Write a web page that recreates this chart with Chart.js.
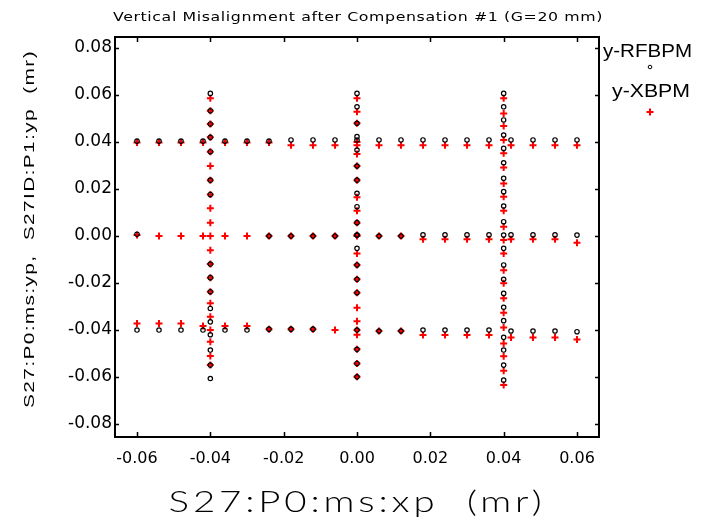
<!DOCTYPE html>
<html>
<head>
<meta charset="utf-8">
<script src="https://cdn.jsdelivr.net/npm/chart.js"></script>
<style>
  body { margin: 0; background: #fff; }
  #wrap { width: 702px; height: 522px; }
</style>
</head>
<body>
<div id="wrap"><canvas id="chart" width="702" height="522"></canvas></div>
<script>
const chartTitle = 'Vertical Misalignment after Compensation #1 (G=20 mm)';
const xTitle = 'S27:P0:ms:xp  (mr)';
const yTitle = 'S27:P0:ms:yp,  S27ID:P1:yp  (mr)';
const seriesNames = ['y-RFBPM', 'y-XBPM'];

const xTicks = [-0.06, -0.04, -0.02, 0.00, 0.02, 0.04, 0.06];
const yTicks = [-0.08, -0.06, -0.04, -0.02, 0.00, 0.02, 0.04, 0.06, 0.08];

// horizontal scans: x positions shared by the three rows
const xScan = [-0.060, -0.054, -0.048, -0.042, -0.036, -0.030, -0.024, -0.018, -0.012, -0.006, 0.000,
  0.006, 0.012, 0.018, 0.024, 0.030, 0.036, 0.042, 0.048, 0.054, 0.060];

const rfRowHi = [0.0404, 0.0404, 0.0404, 0.0404, 0.0404, 0.0404, 0.0404, 0.0409, 0.0409, 0.0409, 0.0409,
  0.0409, 0.0409, 0.0409, 0.0409, 0.0409, 0.0409, 0.0409, 0.0409, 0.0409, 0.0409];
const xbRowHi = [0.0398, 0.0398, 0.0398, 0.0398, 0.0398, 0.0398, 0.0398, 0.0386, 0.0386, 0.0386, 0.0386,
  0.0386, 0.0386, 0.0386, 0.0386, 0.0386, 0.0386, 0.0386, 0.0386, 0.0386, 0.0386];

const rfRowMid = [0.0008, null, null, null, null, null, 0.0000, 0.0000, 0.0000, 0.0000, 0.0004,
  0.0000, 0.0000, 0.0005, 0.0005, 0.0005, 0.0005, 0.0005, 0.0005, 0.0005, 0.0004];
const xbRowMid = [0.0005, 0.0000, 0.0000, 0.0000, 0.0000, 0.0000, 0.0000, 0.0000, 0.0000, 0.0000, 0.0000,
  0.0000, 0.0000, -0.0014, -0.0014, -0.0014, -0.0014, -0.0014, -0.0014, -0.0014, -0.0028];

const rfRowLo = [-0.0400, -0.0400, -0.0400, -0.0400, -0.0400, -0.0400, -0.0396, -0.0396, -0.0396, null, -0.0400,
  -0.0404, -0.0404, -0.0400, -0.0400, -0.0400, -0.0400, -0.0404, -0.0404, -0.0404, -0.0407];
const xbRowLo = [-0.0372, -0.0372, -0.0372, -0.0383, -0.0383, -0.0383, -0.0396, -0.0396, -0.0396, -0.0400, -0.0400,
  -0.0404, -0.0404, -0.0421, -0.0421, -0.0421, -0.0421, -0.0432, -0.0432, -0.0432, -0.0440];

// vertical scans at three x positions, listed top to bottom
const colX = [-0.040, 0.000, 0.040];

const rfColL = [0.0607, 0.0533, 0.0477, 0.0420, 0.0359, null, 0.0238, 0.0177, null, null, null,
  null, -0.0119, -0.0177, -0.0237, -0.0308, -0.0365, -0.0420, -0.0485, -0.0549, -0.0606];
const xbColL = [0.0586, 0.0533, 0.0477, 0.0420, 0.0359, 0.0298, 0.0238, 0.0177, 0.0118, 0.0057, 0.0000,
  -0.0060, -0.0119, -0.0177, -0.0237, -0.0286, -0.0343, -0.0400, -0.0450, -0.0510, -0.0549];

const rfColM = [0.0607, 0.0550, 0.0480, 0.0423, 0.0366, 0.0298, 0.0238, 0.0182, 0.0125, 0.0057, 0.0004,
  -0.0052, -0.0123, -0.0184, -0.0241, null, null, null, -0.0482, -0.0542, -0.0599];
const xbColM = [0.0586, 0.0529, 0.0480, 0.0400, 0.0349, 0.0298, 0.0238, 0.0165, 0.0108, 0.0057, 0.0004,
  -0.0074, -0.0123, -0.0184, -0.0241, -0.0305, -0.0362, -0.0420, -0.0482, -0.0542, -0.0599];

const rfColR = [0.0607, 0.0550, 0.0494, 0.0430, 0.0373, 0.0312, 0.0246, 0.0189, 0.0128, 0.0061, 0.0004,
  -0.0052, -0.0123, -0.0184, -0.0244, -0.0303, -0.0360, -0.0431, -0.0485, -0.0549, -0.0613];
const xbColR = [0.0586, 0.0522, 0.0468, 0.0409, 0.0352, 0.0292, 0.0224, 0.0167, 0.0108, 0.0040, -0.0017,
  -0.0074, -0.0145, -0.0201, -0.0265, -0.0326, -0.0389, -0.0457, -0.0511, -0.0573, -0.0634];

function scanPoints(rows, cols) {
  const pts = [];
  rows.forEach(row => row.forEach((y, i) => { if (y !== null) pts.push({ x: xScan[i], y: y }); }));
  cols.forEach((col, k) => col.forEach(y => { if (y !== null) pts.push({ x: colX[k], y: y }); }));
  return pts;
}

const rfPoints = scanPoints([rfRowHi, rfRowMid, rfRowLo], [rfColL, rfColM, rfColR]);
const xbPoints = scanPoints([xbRowHi, xbRowMid, xbRowLo], [xbColL, xbColM, xbColR]);

const rfStyle = { pointStyle: 'circle', radius: 2.2, borderWidth: 1.2, borderColor: '#000', backgroundColor: 'rgba(0,0,0,0)' };
const xbStyle = { pointStyle: 'cross', radius: 3.5, borderWidth: 2, borderColor: '#ff0000', backgroundColor: '#ff0000' };

// text widened to a given width (the original uses a wide plotter font);
// part of the extra width goes to letter spacing, the rest to a horizontal stretch
function wideText(ctx, text, x, y, width, font, align, spacing) {
  ctx.font = font;
  ctx.textAlign = 'left';
  ctx.letterSpacing = (spacing || 0) + 'px';
  const w0 = ctx.measureText(text).width;
  const left = align === 'center' ? x - width / 2 : x;
  ctx.save();
  ctx.translate(left, y);
  ctx.scale(width / w0, 1);
  ctx.fillText(text, 0, 0);
  ctx.restore();
  ctx.letterSpacing = '0px';
}

const framePlugin = {
  id: 'frame',
  afterDraw(chart) {
    const ctx = chart.ctx;
    const a = chart.chartArea;
    const xs = chart.scales.x, ys = chart.scales.y;
    ctx.save();
    ctx.strokeStyle = '#000';
    ctx.lineWidth = 2;
    ctx.strokeRect(a.left, a.top, a.right - a.left, a.bottom - a.top);
    ctx.lineWidth = 1.5;
    ctx.beginPath();
    xTicks.forEach(v => {
      const px = Math.round(xs.getPixelForValue(v)) + 0.5;
      ctx.moveTo(px, a.bottom); ctx.lineTo(px, a.bottom - 5);
      ctx.moveTo(px, a.top); ctx.lineTo(px, a.top + 5);
    });
    yTicks.forEach(v => {
      const py = Math.round(ys.getPixelForValue(v)) + 0.5;
      ctx.moveTo(a.left, py); ctx.lineTo(a.left + 4, py);
      ctx.moveTo(a.right, py); ctx.lineTo(a.right - 4, py);
    });
    ctx.stroke();

    ctx.fillStyle = '#000';
    ctx.textBaseline = 'alphabetic';
    wideText(ctx, chartTitle, 358, 21, 490, '13px "DejaVu Sans"', 'center', 0.5);
    wideText(ctx, xTitle, 357, 512, 377, '300 30px Lato, "Liberation Sans"', 'center', 3);

    ctx.save();
    ctx.translate(34, 229);
    ctx.rotate(-Math.PI / 2);
    wideText(ctx, yTitle, 0, 0, 358, '15px "Liberation Sans"', 'center', 1);
    ctx.restore();

    // legend
    wideText(ctx, seriesNames[0], 603, 57, 89, '19px "Liberation Sans"', 'left', 0);
    wideText(ctx, seriesNames[1], 612, 97, 78, '19px "Liberation Sans"', 'left', 0);
    ctx.fillStyle = '#fff';
    ctx.strokeStyle = rfStyle.borderColor;
    ctx.lineWidth = 1;
    Chart.helpers.drawPoint(ctx, { pointStyle: 'circle', radius: 1.8, borderWidth: 1 }, 650, 67);
    ctx.strokeStyle = xbStyle.borderColor;
    ctx.lineWidth = xbStyle.borderWidth;
    Chart.helpers.drawPoint(ctx, xbStyle, 650, 112);
    ctx.restore();
  }
};

new Chart(document.getElementById('chart'), {
  type: 'scatter',
  data: {
    datasets: [
      { label: seriesNames[0], data: rfPoints, pointStyle: rfStyle.pointStyle, pointRadius: rfStyle.radius,
        pointBorderWidth: rfStyle.borderWidth, pointBorderColor: rfStyle.borderColor, pointBackgroundColor: rfStyle.backgroundColor },
      { label: seriesNames[1], data: xbPoints, pointStyle: xbStyle.pointStyle, pointRadius: xbStyle.radius,
        pointBorderWidth: xbStyle.borderWidth, pointBorderColor: xbStyle.borderColor, pointBackgroundColor: xbStyle.backgroundColor }
    ]
  },
  options: {
    responsive: false,
    animation: false,
    layout: { padding: { left: 0, top: 37, right: 103, bottom: 0 } },
    plugins: { legend: { display: false }, tooltip: { enabled: false }, title: { display: false } },
    scales: {
      x: {
        type: 'linear', min: -0.066, max: 0.066,
        afterBuildTicks: s => { s.ticks = xTicks.map(v => ({ value: v })); },
        afterFit: s => { s.height = 85; },
        grid: { display: false, drawTicks: false },
        border: { display: false },
        ticks: { padding: 12, color: '#000', font: { family: 'DejaVu Sans', size: 16 }, maxRotation: 0,
          callback: v => v.toFixed(2) }
      },
      y: {
        type: 'linear', min: -0.0855, max: 0.0847,
        afterBuildTicks: s => { s.ticks = yTicks.map(v => ({ value: v })); },
        afterFit: s => { s.width = 115; },
        grid: { display: false, drawTicks: false },
        border: { display: false },
        ticks: { padding: 3, color: '#000', font: { family: 'DejaVu Sans', size: 17 },
          callback: v => v.toFixed(2) }
      }
    }
  },
  plugins: [framePlugin]
});
</script>
</body>
</html>
